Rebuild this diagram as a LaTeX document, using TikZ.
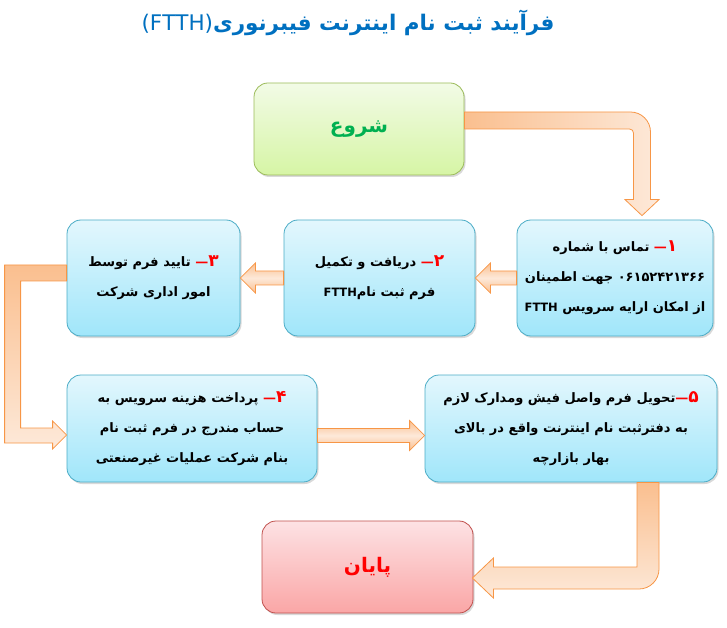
\documentclass[tikz,border=0pt]{standalone}
\usepackage{fontspec}
\usepackage{tikz}
\usetikzlibrary{calc,shadows}
\TeXXeTstate=1
\newfontfamily\arabicfont[Script=Arabic]{DejaVu Sans}

\definecolor{titleblue}{RGB}{0,112,192}
\definecolor{stepred}{RGB}{255,0,0}
\definecolor{startgreen}{RGB}{0,176,80}
\definecolor{boxline}{RGB}{75,172,198}
\definecolor{boxtop}{RGB}{227,247,253}
\definecolor{boxbot}{RGB}{160,230,250}
\definecolor{startline}{RGB}{155,187,89}
\definecolor{starttop}{RGB}{242,251,230}
\definecolor{startbot}{RGB}{214,245,165}
\definecolor{endline}{RGB}{192,80,77}
\definecolor{endtop}{RGB}{253,226,228}
\definecolor{endbot}{RGB}{250,166,166}
\definecolor{flowline}{RGB}{247,150,70}
\definecolor{flowdark}{RGB}{250,191,143}
\definecolor{flowlight}{RGB}{253,233,217}

\newcommand{\fa}[1]{\beginR #1\endR}
\newcommand{\stepno}[1]{\textcolor{stepred}{—}\textcolor{stepred}{\fontsize{17}{30}\selectfont #1}}
\newcommand{\ftth}{{\fontsize{11.5}{30}\selectfont FTTH}}

\begin{document}
\begin{tikzpicture}[x=1pt,y=1pt]
    \tikzstyle{stepbox}=[rectangle, rounded corners=14pt, draw=boxline, line width=0.8pt, top color=boxtop, bottom color=boxbot, drop shadow={shadow xshift=1.5pt, shadow yshift=-2pt, opacity=0.3}, align=center, inner sep=0pt, font=\arabicfont\bfseries\fontsize{13}{30}\selectfont]
    \tikzstyle{startbox}=[stepbox, draw=startline, top color=starttop, bottom color=startbot, text=startgreen, font=\arabicfont\bfseries\fontsize{20}{24}\selectfont]
    \tikzstyle{endbox}=[stepbox, draw=endline, top color=endtop, bottom color=endbot, text=stepred, font=\arabicfont\bfseries\fontsize{20}{24}\selectfont]
    \tikzstyle{flow}=[draw=flowline, line width=0.8pt]

    \useasboundingbox (0,0) rectangle (727,627);

    \node[text=titleblue, font=\arabicfont\bfseries\fontsize{21.5}{26}\selectfont] (title) at (348,604) {\fa{فرآیند ثبت نام اینترنت فیبرنوری\beginL{\mdseries(FTTH)}\endL}};

    \node[startbox, minimum width=210pt, minimum height=92pt] (start) at (359,498) {\fa{شروع}};
    \node[stepbox, minimum width=196pt, minimum height=116pt] (b1) at (615,349) {\fa{تماس با شماره} \stepno{۱}\\ \fa{۰۶۱۵۲۴۲۱۳۶۶ جهت اطمینان}\\ \fa{از امکان ارایه سرویس \ftth}};
    \node[stepbox, minimum width=191pt, minimum height=116pt] (b2) at (379.5,349) {\fa{دریافت و تکمیل} \stepno{۲}\\ \fa{فرم ثبت نام\beginL\ftth\endL}};
    \node[stepbox, minimum width=173pt, minimum height=116pt] (b3) at (153.5,349) {\fa{تایید فرم توسط} \stepno{۳}\\ \fa{امور اداری شرکت}};
    \node[stepbox, minimum width=250pt, minimum height=107pt] (b4) at (192,198.5) {\fa{پرداخت هزینه سرویس به} \stepno{۴}\\ \fa{حساب مندرج در فرم ثبت نام}\\ \fa{بنام شرکت عملیات غیرصنعتی}};
    \node[stepbox, minimum width=292pt, minimum height=107pt] (b5) at (571,198.5) {\fa{تحویل فرم واصل فیش ومدارک لازم}\stepno{۵}\\ \fa{به دفترثبت نام اینترنت واقع در بالای}\\ \fa{بهار بازارچه}};
    \node[endbox, minimum width=211pt, minimum height=92pt] (end) at (367.5,60) {\fa{پایان}};

    % start -> 1
    \path[flow, left color=flowdark, right color=flowlight] let \p1=(start.east), \p2=($(b1.north)+(27,4)$) in
        (\x1,\y1+17) -- (\x2-11.5,\y1+17) arc[start angle=90, end angle=0, radius=20pt] -- (\x2+8.5,\y2+16) -- (\x2+17,\y2+16) -- (\p2)
        -- (\x2-17,\y2+16) -- (\x2-8.5,\y2+16) -- (\x2-8.5,\y1-4) arc[start angle=0, end angle=90, radius=4pt] -- (\p1) -- cycle;

    % straight steps
    \foreach \source/\sa/\dest/\da/\dy in {b1/west/b2/east/0, b2/west/b3/east/0, b4/east/b5/west/-7}
        \path[flow, top color=flowdark, bottom color=flowdark, middle color=flowlight] let \p1=($(\source.\sa)+(0,\dy)$), \p2=($(\dest.\da)+(0,\dy)$), \p3=($(\p2)!15pt!(\p1)$) in
            (\x1,\y1+7) -- (\x3,\y1+7) -- (\x3,\y1+15) -- (\x2,\y1) -- (\x3,\y1-15) -- (\x3,\y1-7) -- (\x1,\y1-7) -- cycle;

    % 3 -> 4
    \path[flow, top color=flowdark, bottom color=flowlight] let \p1=(b3.west), \p2=(b4.west) in
        (\x1,\y1+13) -- (\x1-62,\y1+13) -- (\x1-62,\y2-14.5) -- (\x2-14,\y2-14.5) -- (\x2-14,\y2-20.5) -- (\x2,\y2-6.5)
        -- (\x2-14,\y2+7.5) -- (\x2-14,\y2+0.5) -- (\x1-46,\y2+0.5) -- (\x1-46,\y1-3) -- (\x1,\y1-3) -- cycle;

    % 5 -> end
    \path[flow, top color=flowdark, bottom color=flowlight] let \p1=($(b5.south)+(77,0)$), \p2=($(end.east)+(-1,-11)$) in
        (\x1-11,\y1) -- (\x1+11,\y1) -- (\x1+11,\y2+9) arc[start angle=0, end angle=-90, radius=20pt] -- (\x2+21,\y2-11) -- (\x2+21,\y2-20) -- (\p2)
        -- (\x2+21,\y2+20) -- (\x2+21,\y2+11) -- (\x1-11,\y2+11) -- cycle;
\end{tikzpicture}
\end{document}
